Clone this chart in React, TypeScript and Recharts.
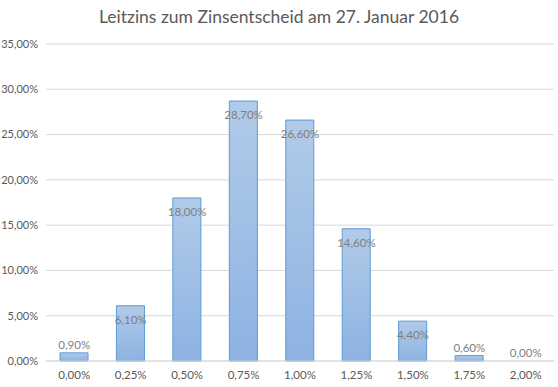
import React from 'react';
import { ComposedChart, Bar, Line, XAxis, YAxis, CartesianGrid, LabelList } from 'recharts';

const categories = ['0,00%', '0,25%', '0,50%', '0,75%', '1,00%', '1,25%', '1,50%', '1,75%', '2,00%'];
const values = [0.9, 6.1, 18.0, 28.7, 26.6, 14.6, 4.4, 0.6, 0.0];
const yTicks = [0, 5, 10, 15, 20, 25, 30, 35];
const title = 'Leitzins zum Zinsentscheid am 27. Januar 2016';

const data = categories.map((c, i) => ({ name: c, value: values[i] }));
const fmt = (v: number) => v.toFixed(2).replace('.', ',') + '%';
const FONT = 'Lato, "Open Sans", sans-serif';

const renderLabel = (props: any) => {
  const { x, y, value } = props;
  const inside = value > 2;
  const ty = inside ? y + 18 : y - 4;
  return (
    <text x={x} y={ty} textAnchor="middle" fill="#7f7f7f" fontSize={11.5} fontFamily={FONT}>
      {fmt(value)}
    </text>
  );
};

export default function App() {
  return (
    <div style={{ position: 'absolute', left: 0, top: 0, width: 558, height: 387, background: '#fff' }}>
      <div style={{ position: 'absolute', left: 0, top: 6, width: 558, textAlign: 'center', fontFamily: FONT, fontSize: 17.5, color: '#595959' }}>
        {title}
      </div>
      <ComposedChart width={558} height={387} data={data} margin={{ top: 44, right: 4, bottom: 0, left: 0 }}>
        <defs>
          <linearGradient id="barGrad" x1="0" y1="0" x2="0" y2="1">
            <stop offset="0%" stopColor="#b1cbe9" />
            <stop offset="100%" stopColor="#8db3e2" />
          </linearGradient>
        </defs>
        <CartesianGrid vertical={false} stroke="#d9d9d9" />
        <XAxis dataKey="name" axisLine={{ stroke: '#d9d9d9' }} tickLine={false} height={26}
          tick={{ fill: '#595959', fontSize: 11.5, fontFamily: FONT, dy: 2 }} interval={0} />
        <YAxis domain={[0, 35]} ticks={yTicks} axisLine={false} tickLine={false} width={46}
          tickFormatter={fmt} tick={{ fill: '#595959', fontSize: 11, fontFamily: FONT }} />
        <Bar dataKey="value" fill="url(#barGrad)" stroke="#5b9bd5" strokeWidth={1} barSize={28} isAnimationActive={false} />
        <Line dataKey="value" stroke="none" dot={false} activeDot={false} isAnimationActive={false} legendType="none">
          <LabelList dataKey="value" content={renderLabel} />
        </Line>
      </ComposedChart>
    </div>
  );
}
